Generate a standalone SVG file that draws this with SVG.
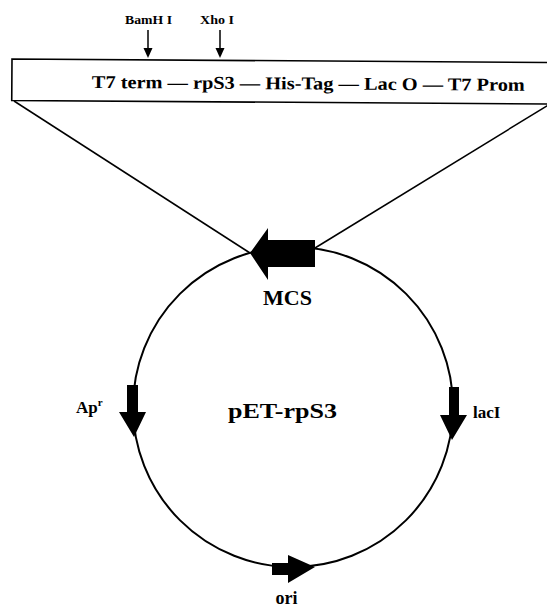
<svg xmlns="http://www.w3.org/2000/svg" width="547" height="607" viewBox="0 0 547 607">
<style>
.t{font-family:"Liberation Serif","Times New Roman",serif;font-weight:bold;fill:#000}
.ln{stroke:#000;fill:none}
.ar{fill:#000;stroke:none}
</style>
<rect width="547" height="607" fill="#fff"/>
<g id="sites">
<text class="t" x="125" y="24" font-size="13" textLength="47" lengthAdjust="spacingAndGlyphs">BamH I</text>
<text class="t" x="200" y="24" font-size="13" textLength="34" lengthAdjust="spacingAndGlyphs">Xho I</text>
<line class="ln" x1="148" y1="30" x2="148" y2="49" stroke-width="1.5"/>
<polygon class="ar" points="143.5,48 152.5,48 148,58"/>
<line class="ln" x1="220" y1="30" x2="220" y2="49" stroke-width="1.5"/>
<polygon class="ar" points="215.5,48 224.5,48 220,58"/>
</g>
<g id="insert" transform="rotate(0.37 12 59)">
<path class="ln" stroke-width="1.6" d="M560,59 L12,59 L12,100.5 L560,100.5"/>
<text class="t" x="92" y="87.5" font-size="18" textLength="433" lengthAdjust="spacingAndGlyphs">T7 term — rpS3 — His-Tag — Lac O — T7 Prom</text>
</g>
<g id="connectors">
<line class="ln" x1="14" y1="101" x2="250" y2="253" stroke-width="1.5"/>
<line class="ln" x1="550" y1="104" x2="315" y2="248" stroke-width="1.5"/>
</g>
<g id="plasmid">
<circle class="ln" cx="293" cy="407" r="160" stroke-width="2"/>
<text class="t" x="282.5" y="418" font-size="20" text-anchor="middle" textLength="109" lengthAdjust="spacingAndGlyphs">pET-rpS3</text>
</g>
<g id="mcs">
<polygon class="ar" points="250,253 268,228 268,240 315,240 315,267 268,267 268,280"/>
<text class="t" x="287.5" y="305" font-size="20" text-anchor="middle" textLength="49" lengthAdjust="spacingAndGlyphs">MCS</text>
</g>
<g id="apr">
<polygon class="ar" points="127,385 138,385 138,412 146,412 134,437 119,412 127,412"/>
<text class="t" x="76" y="413" font-size="17">Ap<tspan font-size="11" dy="-7">r</tspan></text>
</g>
<g id="lacI">
<polygon class="ar" points="449,387 459,387 459,415 467,415 452,440 440,415 449,415"/>
<text class="t" x="473" y="418" font-size="17">lacI</text>
</g>
<g id="ori">
<polygon class="ar" points="272,563 288,563 288,555 315,567 288,583 288,575 272,575"/>
<text class="t" x="286.5" y="604" font-size="18" text-anchor="middle">ori</text>
</g>
</svg>
